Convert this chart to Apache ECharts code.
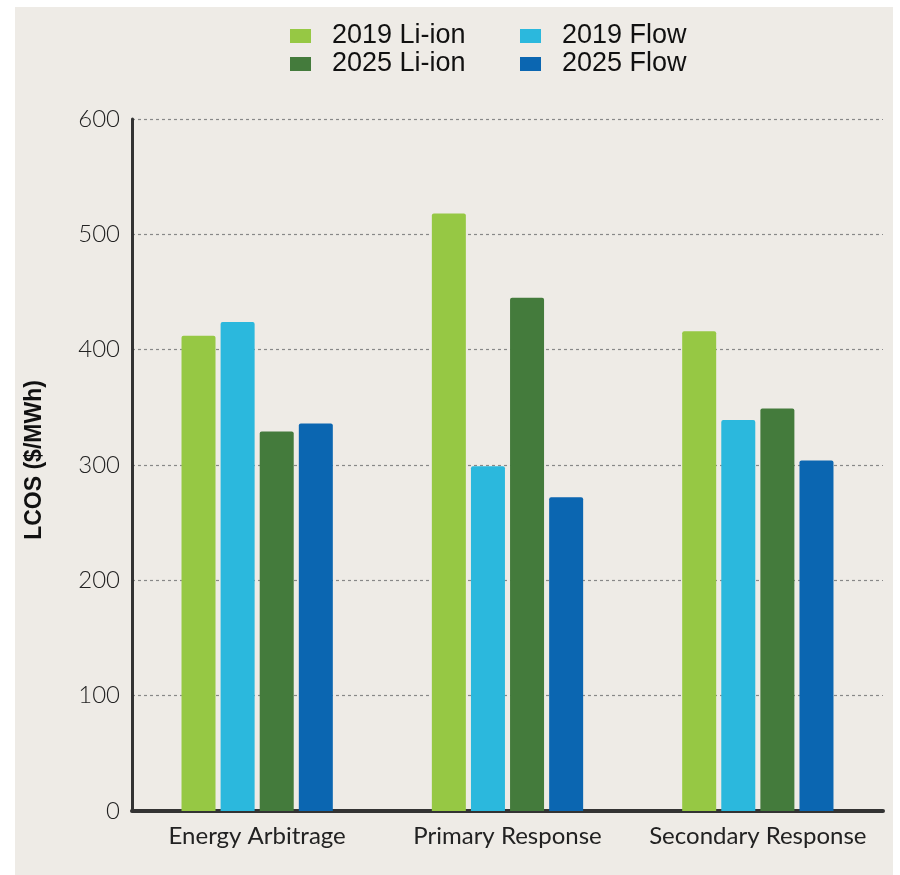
<!DOCTYPE html>
<html>
<head>
<meta charset="utf-8">
<script src="https://cdn.jsdelivr.net/npm/echarts@6/dist/echarts.min.js"></script>
<style>
html,body{margin:0;padding:0;background:#ffffff;}
#chart{width:900px;height:875px;}
</style>
</head>
<body>
<div id="chart"></div>
<script>
const categories = ['Energy Arbitrage', 'Primary Response', 'Secondary Response'];
const seriesNames = ['2019 Li-ion', '2019 Flow', '2025 Li-ion', '2025 Flow'];
const li2019 = [412, 518, 416];
const flow2019 = [424, 299, 339];
const li2025 = [329, 445, 349];
const flow2025 = [336, 272, 304];
const yTicks = [0, 100, 200, 300, 400, 500, 600];
const colors = ['#96c844', '#2bb8dd', '#447b3c', '#0b66b1'];
const values = [li2019, flow2019, li2025, flow2025];

const chart = echarts.init(document.getElementById('chart'), null, {renderer: 'canvas'});
const legendText = {fontFamily: 'Liberation Sans, Arial, sans-serif', fontSize: 27, color: '#111', lineHeight: 28,
  padding: [0, 0, 0, 16]};
const option = {
  animation: false,
  backgroundColor: 'transparent',
  graphic: [{
    type: 'rect', left: 15, top: 7, z: -10,
    shape: {width: 878, height: 868},
    style: {fill: '#eeebe6'}
  }],
  legend: [
    {data: [seriesNames[0], seriesNames[2]], orient: 'vertical', left: 285, top: 17,
     itemWidth: 21, itemHeight: 14, itemGap: 0, itemTextGap: 33, icon: 'rect', textStyle: legendText},
    {data: [seriesNames[1], seriesNames[3]], orient: 'vertical', left: 515, top: 17,
     itemWidth: 21, itemHeight: 14, itemGap: 0, itemTextGap: 33, icon: 'rect', textStyle: legendText}
  ],
  grid: {left: 132, right: 17, top: 119, bottom: 64, containLabel: false},
  xAxis: {
    type: 'category', data: categories,
    axisLine: {lineStyle: {color: '#333', width: 4}},
    axisTick: {show: false},
    axisLabel: {interval: 0, fontFamily: 'Lato, sans-serif', fontSize: 24, color: '#222', margin: 13}
  },
  yAxis: {
    type: 'value', min: 0, max: 600, interval: 100,
    name: 'LCOS ($/MWh)', nameLocation: 'middle', nameGap: 86, nameRotate: 90,
    nameTextStyle: {fontFamily: 'Liberation Sans, Arial, sans-serif', fontWeight: 'bold', fontSize: 23, color: '#111',
      padding: [0, 0, 0, 10]},
    axisLine: {show: true, lineStyle: {color: '#333', width: 3}},
    axisTick: {show: false},
    axisLabel: {fontFamily: 'Lato, sans-serif', fontWeight: 300, fontSize: 24, color: '#222', margin: 12,
      formatter: v => yTicks.includes(v) ? String(v) : ''},
    splitLine: {show: true, lineStyle: {color: '#888', width: 1.2, type: [3, 3]}}
  },
  series: seriesNames.map((n, i) => ({
    name: n, type: 'bar', data: values[i], barWidth: 34, barGap: '15%',
    itemStyle: {color: colors[i], borderRadius: [2, 2, 0, 0]}
  }))
};
chart.setOption(option);
</script>
</body>
</html>
